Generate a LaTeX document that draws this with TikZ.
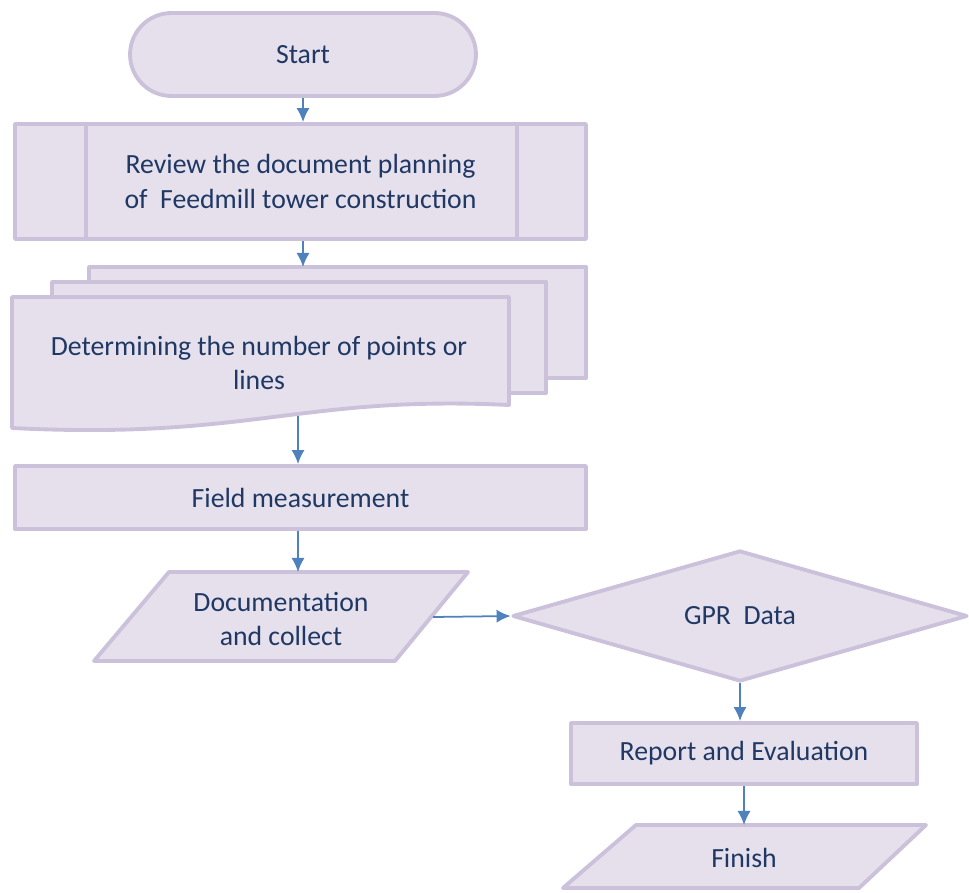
\documentclass[tikz,border=0pt]{standalone}
\usepackage{fontspec}
\setmainfont{Carlito}
\usetikzlibrary{shapes.geometric,shapes.misc,arrows.meta}
\definecolor{boxfill}{HTML}{E5E0EC}
\definecolor{boxline}{HTML}{CCC1DA}
\definecolor{boxtext}{HTML}{1F3864}
\definecolor{flowblue}{HTML}{4F81BD}
\tikzset{
  shade/.style={draw=boxline, fill=boxfill, line width=2.2pt},
  label/.style={text=boxtext, align=center, inner sep=0pt, font=\fontsize{15.8}{19.5}\selectfont},
  box/.style={shade, label},
  flow/.style={->, >={Latex[length=8pt,width=7.5pt]}, draw=flowblue, line width=1pt},
}
\begin{document}
\begin{tikzpicture}[x=0.02cm, y=-0.02cm, line join=round]
\useasboundingbox (0,0) rectangle (969,892);

\node[box, rounded rectangle, minimum width=6.92cm, minimum height=1.66cm] (start) at (303,54.5) {Start};
\node[box, minimum width=11.42cm, minimum height=2.3cm] (review) at (300.5,181.5) {Review the document planning\\of\ \ Feedmill tower construction};
\draw[boxline, line width=2.2pt] ([xshift=1.46cm]review.north west) -- ([xshift=1.46cm]review.south west)
  ([xshift=-1.42cm]review.north east) -- ([xshift=-1.42cm]review.south east);

% stacked pages
\draw[shade] (89,267) rectangle (586,378);
\draw[shade] (52,282) rectangle (546,393);
\draw[shade] (12,297) -- (509,297) -- (509,405) .. controls (300,395) and (250,440) .. (12,428) -- cycle;
\node[label] (points) at (259,363) {Determining\ the number\ of points or\\lines};
\coordinate (pagetop) at (303,267);
\coordinate (pagebot) at (298,416);

\node[box, minimum width=11.42cm, minimum height=1.26cm] (field) at (300.5,497.5) {Field measurement};

% parallelogram
\draw[shade] (169,572) -- (468,572) -- (395,661) -- (94,661) -- cycle;
\node[label] (collect) at (281,619) {Documentation\\and collect};
\coordinate (collecttop) at (298,572);
\coordinate (collectout) at (433,617);

\node[box, diamond, minimum width=9.1cm, minimum height=2.62cm] (gpr) at (740,616) {GPR\ \ Data};
\node[box, minimum width=6.92cm, minimum height=1.22cm] (report) at (744,753.5) {Report and Evaluation};

% parallelogram
\draw[shade] (636,825) -- (926,825) -- (859,888) -- (563,888) -- cycle;
\node[label] (finish) at (744,858) {Finish};
\coordinate (finishtop) at (744,825);

% arrows
\draw[flow] (start.south) -- (start.south |- review.north);
\draw[flow] (review.south -| pagetop) -- (pagetop);
\draw[flow] (pagebot) -- (pagebot |- field.north);
\draw[flow] (field.south -| collecttop) -- (collecttop);
\draw[flow] (collectout) -- (gpr.west);
\draw[flow] (gpr.south) -- (gpr.south |- report.north);
\draw[flow] (report.south -| finishtop) -- (finishtop);
\end{tikzpicture}
\end{document}
